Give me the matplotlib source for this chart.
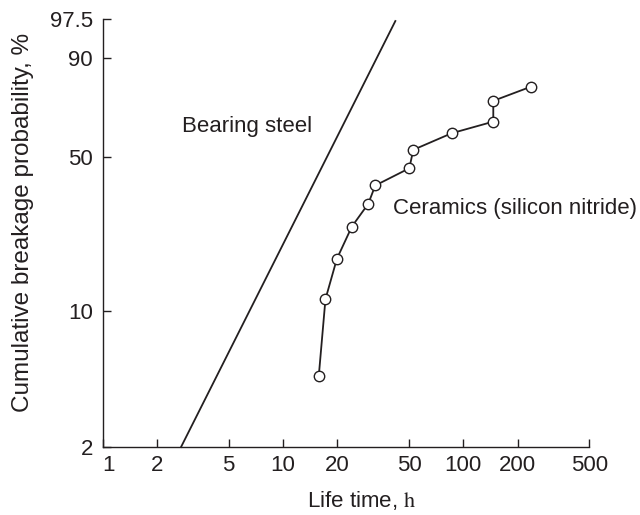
import numpy as np
import matplotlib
matplotlib.use("Agg")
import matplotlib.pyplot as plt
from matplotlib.ticker import FixedLocator, NullLocator, FixedFormatter

plt.rcParams['font.family'] = ['Liberation Sans', 'DejaVu Sans']
plt.rcParams['mathtext.fontset'] = 'stix'

# ---- data ----
ceramic_life = [15.8, 17.2, 19.9, 24.1, 29.7, 32.5, 50.2, 52.8, 86.2, 146.7, 146.7, 237.5]
ceramic_prob = [4.7, 11.5, 18.1, 25.6, 32.3, 38.6, 45.2, 52.9, 60.2, 65.4, 74.5, 80.3]
steel_life = [2.72, 42.0]
steel_prob = [2.0, 97.3]
x_ticks = [1, 2, 5, 10, 20, 50, 100, 200, 500]
x_tick_labels = ['1', '2', '5', '10', '20', '50', '100', '200', '500']
y_ticks = [2, 10, 50, 90, 97.5]
y_tick_labels = ['2', '10', '50', '90', '97.5']

INK = '#231f20'


def weib(p):
    p = np.clip(np.asarray(p, dtype=float) / 100.0, 1e-12, 1 - 1e-12)
    return np.log(-np.log(1.0 - p))


def weib_inv(w):
    w = np.asarray(w, dtype=float)
    return 100.0 * (1.0 - np.exp(-np.exp(w)))


fig = plt.figure(figsize=(6.4, 5.15), dpi=100)
ax = fig.add_axes([102.7 / 640, 1 - 447 / 515, (589.3 - 102.7) / 640, (447 - 19.3) / 515])

ax.set_xscale('log')
ax.set_yscale('function', functions=(weib, weib_inv))
ax.set_xlim(1, 500)
ax.set_ylim(2, 97.5)

ax.plot(steel_life, steel_prob, color=INK, lw=1.3, clip_on=False)
ax.plot(ceramic_life, ceramic_prob, color=INK, lw=1.3, marker='o', ms=7.5,
        mfc='white', mec=INK, mew=1.0, clip_on=False, zorder=3)

ax.text(2.75, 63.1, 'Bearing steel', fontsize=16, color=INK, ha='left', va='center')
ax.text(40.7, 30.7, 'Ceramics (silicon nitride)', fontsize=16, color=INK,
        ha='left', va='center')

ax.xaxis.set_major_locator(FixedLocator(x_ticks))
ax.xaxis.set_major_formatter(FixedFormatter(x_tick_labels))
ax.xaxis.set_minor_locator(NullLocator())
ax.yaxis.set_major_locator(FixedLocator(y_ticks))
ax.yaxis.set_major_formatter(FixedFormatter(y_tick_labels))
ax.yaxis.set_minor_locator(NullLocator())

for s in ['top', 'right']:
    ax.spines[s].set_visible(False)
for s in ['left', 'bottom']:
    ax.spines[s].set_color(INK)
    ax.spines[s].set_linewidth(1.0)

ax.tick_params(axis='both', direction='in', length=5.5, width=1.0, color=INK,
               labelsize=16, labelcolor=INK)
ax.tick_params(axis='x', pad=6)
ax.tick_params(axis='y', pad=7)

# first x tick label sits just right of the corner
ax.get_xticklabels()[0].set_horizontalalignment('left')

ax.set_xlabel('Life time, $\\mathrm{h}$', fontsize=16, color=INK)
ax.xaxis.set_label_coords((362 - 102.7) / 486.6, -(489 - 447) / 427.7)
ax.set_ylabel('Cumulative breakage probability, %', fontsize=17.5, color=INK)
ax.yaxis.set_label_coords(-(102.7 - 34) / 486.6, (447 - 222) / 427.7)

fig.savefig('out.png', dpi=100)
